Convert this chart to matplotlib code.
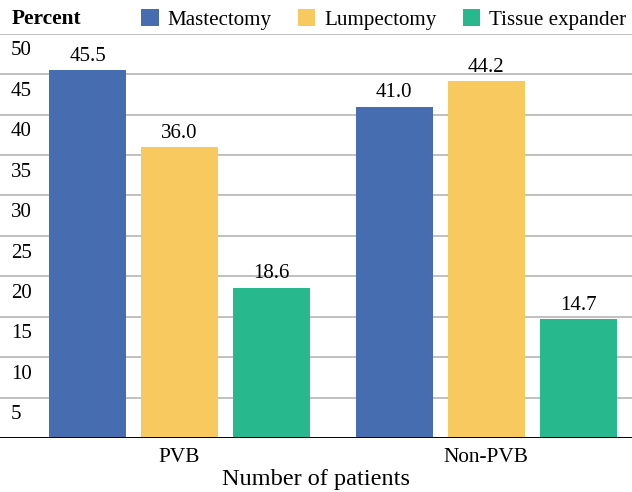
import numpy as np
import matplotlib
matplotlib.use("Agg")
import matplotlib.pyplot as plt
from matplotlib import transforms

plt.rcParams['font.family'] = ['Liberation Serif', 'DejaVu Serif']

# data
groups = ['PVB', 'Non-PVB']
series = ['Mastectomy', 'Lumpectomy', 'Tissue expander']
mastectomy = [45.5, 41.0]
lumpectomy = [36.0, 44.2]
tissue = [18.6, 14.7]
colors = ['#476db1', '#f8c95f', '#27b88d']
yticks = [5, 10, 15, 20, 25, 30, 35, 40, 45, 50]

fig = plt.figure(figsize=(6.32, 4.92), dpi=100)
ax = fig.add_axes([0, 0.1098, 1, 0.8215])

x = np.arange(len(groups))
step = 0.300
width = 0.251
for i, (vals, c, name) in enumerate(zip([mastectomy, lumpectomy, tissue], colors, series)):
    bars = ax.bar(x + (i - 1) * step, vals, width, color=c, label=name, zorder=3)
    for b, v in zip(bars, vals):
        ax.annotate(f'{v:.1f}', (b.get_x() + b.get_width() / 2, v),
                    xytext=(0, 3), textcoords='offset points',
                    ha='center', va='bottom', fontsize=15)

ax.set_xlim(-0.5856, 1.476)
ax.set_ylim(0, 50)

# gridlines
for t in yticks:
    ax.axhline(t, color='#c0c0c0', lw=1.4, zorder=1)
ax.axhline(0, color='black', lw=1.4, zorder=4)

for s in ax.spines.values():
    s.set_visible(False)
ax.set_yticks([])
ax.set_xticks(x)
ax.set_xticklabels(groups, fontsize=15.3)
ax.tick_params(axis='x', length=0, pad=7)
ax.set_xlabel('Number of patients', fontsize=17.5, labelpad=1.5)

# y tick labels sit just below their gridline
trans = transforms.blended_transform_factory(ax.transAxes, ax.transData)
trans = trans + transforms.ScaledTranslation(0, -5.5 / 72, fig.dpi_scale_trans)
for t in yticks:
    ax.text(0.017, t, str(t), transform=trans, ha='left', va='top', fontsize=15)

fig.text(0.018, 0.962, 'Percent', fontsize=15.4, fontweight='bold', ha='left', va='center')
fig.legend(loc='center left', bbox_to_anchor=(141 / 632, 0.96), ncol=3, frameon=False,
           fontsize=15.1, handlelength=0.85, handleheight=0.85, handletextpad=0.42,
           columnspacing=1.24, borderaxespad=0, borderpad=0)

fig.savefig('out.png', dpi=100)
